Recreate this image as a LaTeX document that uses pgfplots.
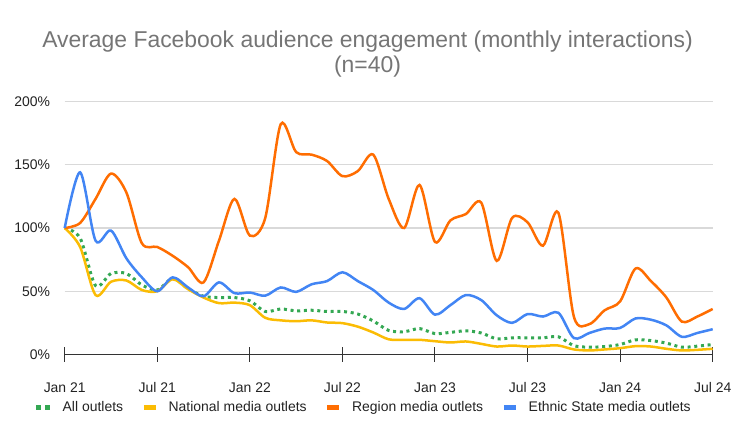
\documentclass[border=0pt]{standalone}
\usepackage{fontspec}
\setmainfont{Liberation Sans}
\usepackage{pgfplots}
\usepackage{pgfplotstable}
\pgfplotsset{compat=1.18}
\definecolor{cAll}{HTML}{34A853}
\definecolor{cNat}{HTML}{FBBC04}
\definecolor{cReg}{HTML}{FF6D01}
\definecolor{cEth}{HTML}{4285F4}
\definecolor{titlegray}{HTML}{757575}
\definecolor{gridgray}{HTML}{D9D9D9}
\definecolor{axisgray}{HTML}{333333}
\definecolor{labelgray}{HTML}{222222}

\pgfplotstableread{
m all nat reg eth
0 100 100 100 100
1 92 85 104 144
2 54.5 47 123 90
3 64 57.5 143 98
4 64 58.5 128 76
5 55 51 88 61
6 51 50 85 50
7 60 59.5 78 61
8 52 51.6 69 53
9 46 45 57 46
10 45 40.6 90 57
11 45 41 123 48.5
12 42.5 39 94 49
13 34 29 108 46.5
14 36 27 182 53
15 34.5 26.3 160 49.5
16 35 27 158 55.5
17 34 25.3 153 58
18 34 24.8 141 65
19 32 22 145 58
20 26.5 17.4 158 51
21 19 12 123 41
22 18 11.6 100 36
23 20.5 11.6 134 44.5
24 16.5 10.5 89 31.5
25 17.5 9.5 106 39
26 18.7 10.3 111 47
27 17 8.4 120 43
28 12.4 6.3 74 31
29 13.2 7.1 108 25
30 13.2 6.3 104.5 32
31 13.2 6.8 86 30
32 14 7.1 112 33
33 7 4 30 13
34 5.8 3.2 24 17
35 6.3 4 35 20.5
36 7.9 5 42 21
37 11.6 6.6 68 28.5
38 11 6.3 58 27.5
39 9 4.5 45 23
40 5.8 3.2 26 14
41 6.6 3.7 30 17
42 7.9 4.5 36 20
}\data

\begin{document}
\begin{tikzpicture}
\useasboundingbox (0,0) rectangle (735bp,438bp);
\node[anchor=base, font=\fontsize{23}{25}\selectfont, text=titlegray, inner sep=0pt] at (367.5bp,390bp) {Average Facebook audience engagement (monthly interactions)};
\node[anchor=base, font=\fontsize{23}{25}\selectfont, text=titlegray, inner sep=0pt] at (367.5bp,365bp) {(n=40)};
\begin{axis}[
  at={(64.7bp,83.5bp)}, anchor=south west,
  scale only axis, width=648bp, height=253bp,
  xmin=0, xmax=42, ymin=0, ymax=200,
  axis x line*=bottom, axis y line*=left,
  y axis line style={draw=none},
  x axis line style={draw=axisgray, line width=1bp},
  xtick={0,6,12,18,24,30,36,42},
  xticklabels={Jan 21,Jul 21,Jan 22,Jul 22,Jan 23,Jul 23,Jan 24,Jul 24},
  ytick={0,50,100,150,200},
  yticklabels={0\%,50\%,100\%,150\%,200\%},
  ytick style={draw=none},
  xtick style={draw=axisgray, line width=1bp},
  tick align=center, major tick length=14bp,
  ymajorgrids, grid style={draw=gridgray, line width=1.2bp},
  ticklabel style={font=\fontsize{14}{16}\selectfont, text=labelgray, inner sep=0pt},
  xticklabel style={anchor=base, yshift=-31bp},
  yticklabel style={anchor=east, xshift=-7.5bp},
  clip=false,
  legend columns=4,
  legend style={at={(-0.052,-0.21)}, anchor=west, draw=none, fill=none,
    font=\fontsize{14}{16}\selectfont, text=labelgray,
    nodes={inner sep=0pt},
    /tikz/every odd column/.append style={column sep=10bp},
    /tikz/every even column/.append style={column sep=18bp}},
  legend image code/.code={\draw[#1, line width=5.5bp, line cap=butt] (0bp,0bp) -- (12bp,0bp);},
]
\addplot[cAll, line width=3bp, line cap=butt, dash pattern=on 3bp off 3.7bp, smooth, legend image code/.code={\draw[cAll, line width=4.5bp, line cap=butt, dash pattern=on 4.5bp off 4.5bp] (0bp,0bp) -- (14bp,0bp);}] table[x=m,y=all]{\data};
\addlegendentry{All outlets}
\addplot[cNat, line width=2.5bp, smooth] table[x=m,y=nat]{\data};
\addlegendentry{National media outlets}
\addplot[cReg, line width=2.5bp, smooth] table[x=m,y=reg]{\data};
\addlegendentry{Region media outlets}
\addplot[cEth, line width=2.5bp, smooth] table[x=m,y=eth]{\data};
\addlegendentry{Ethnic State media outlets}
\end{axis}
\end{tikzpicture}
\end{document}
